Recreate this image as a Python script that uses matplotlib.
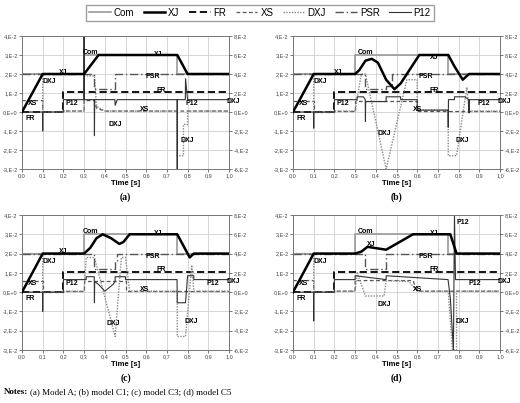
import matplotlib
matplotlib.use("Agg")
import matplotlib.pyplot as plt
from matplotlib.lines import Line2D

plt.rcParams['font.family'] = ['Liberation Sans', 'DejaVu Sans']

# ---------- data: (times, values) breakpoints, left-axis units ----------
# Panel (a) Model A
COM_a = [[0, .3, .3, .75, .75, 1], [.02, .02, .03, .03, .02, .02]]
XJ_a = [[0, .1, .3, .37, .75, .8, 1], [0, .02, .02, .03, .03, .02, .02]]
FR_a = [[0, .2, .2, 1], [0, 0, .0105, .0105]]
XS_a = [[0, .1, .1, .2, .2, .3, .3, .35, .36, .4, 1], [.006, .006, 0, 0, .0005, .0005, .006, .006, .002, .0005, .0005]]
DXJ_a = [[0, .1, .1, .2, .2, .3, .3, .35, .36, .4, .75, .75, .78, .78, .8, .8, 1],
         [.02, .02, 0, 0, .0005, .0005, .019, .019, .003, .0005, .0005, -.023, -.023, -.0065, -.0065, .0005, .0005]]
PSR_a = [[0, .35, .35, .45, .45, 1], [.02, .02, .012, .012, .02, .02]]
P12_a = [[0, .099, .1, .101, .2, .2, .299, .3, .301, .349, .35, .351, .449, .45, .46, .749, .75, .751, .789, .79, .8, 1],
         [0, 0, -.01, 0, 0, .0065, .0065, .04, .0065, .0065, -.0125, .0065, .0065, .0035, .0065, .0065, -.03, .0065, .0065, .0175, .0065, .0065]]

# Panel (b) model C1
COM_b = COM_a
XJ_b = [[0, .1, .3, .32, .35, .38, .41, .45, .49, .52, .61, .75, .78, .82, .85, 1],
        [0, .02, .02, .022, .027, .028, .026, .017, .012, .015, .03, .03, .024, .017, .02, .02]]
FR_b = FR_a
XS_b = [[0, .1, .1, .2, .2, .3, .3, .6, .6, 1], [.006, .006, 0, 0, .0005, .0005, .006, .006, .0005, .0005]]
DXJ_b = [[0, .1, .1, .2, .2, .3, .33, .35, .45, .55, .6, .6, .75, .75, .79, .84, .85, 1],
         [.02, .02, 0, 0, .0005, .0005, .02, .02, -.03, .017, .017, .001, .001, -.023, -.023, .013, .0005, .0005]]
PSR_b = [[0, .35, .35, .45, .45, .48, .48, 1], [.02, .02, .012, .012, .0135, .0135, .02, .02]]
P12_b = [[0, .099, .1, .101, .2, .2, .31, .31, .34, .349, .35, .351, .45, .45, .52, .52, .6, .6, .749, .75, .751, .78, .78, .83, .849, .85, .851, 1],
         [0, 0, -.0085, 0, 0, .0065, .0065, .008, .008, .0065, -.005, .0055, .0055, .008, .008, .0065, .0065, .001, .001, -.008, .0065, .0065, .008, .008, .0065, -.0005, .0065, .0065]]

# Panel (c) model C3
COM_c = COM_a
XJ_c = [[0, .1, .3, .33, .36, .39, .43, .47, .49, .52, .75, .79, .81, .83, 1],
        [0, .02, .02, .023, .028, .03, .028, .025, .026, .03, .03, .022, .018, .02, .02]]
FR_c = FR_a
XS_c = [[0, .1, .1, .2, .2, .3, .3, .5, .5, 1], [.006, .006, 0, 0, .0005, .0005, .006, .006, .0005, .0005]]
DXJ_c = [[0, .1, .1, .2, .2, .3, .31, .35, .45, .48, .5, .52, .75, .75, .79, .82, .83, 1],
         [.02, .02, 0, 0, .0005, .0005, .018, .018, -.023, .018, .018, .0005, .0005, -.023, -.023, .014, .0005, .0005]]
PSR_c = [[0, .35, .35, .45, .45, .46, .46, 1], [.02, .02, .012, .012, .016, .016, .02, .02]]
P12_c = [[0, .099, .1, .101, .2, .2, .31, .31, .349, .35, .351, .37, .4, .44, .45, .45, .5, .5, .749, .75, .79, .8, .8, .83, .83, 1],
         [0, 0, -.01, 0, 0, .0065, .0065, .008, .008, -.0055, .0055, .004, .0005, .004, .0055, .008, .008, .0065, .0065, -.0055, -.0055, .0085, .0085, .0085, .0065, .0065]]

# Panel (d) model C5
COM_d = COM_a
XJ_d = [[0, .1, .3, .33, .36, .45, .58, .76, .79, 1],
        [0, .02, .02, .021, .0235, .022, .03, .03, .02, .02]]
FR_d = FR_a
XS_d = [[0, .1, .1, .2, .2, .3, .3, .58, .6, 1], [.006, .006, 0, 0, .0005, .0005, .006, .006, .0005, .0005]]
DXJ_d = [[0, .1, .1, .2, .2, .3, .31, .35, .44, .45, .56, .6, .75, .77, .79, .79, 1],
         [.02, .02, 0, 0, .0005, .0005, .01, -.002, -.002, .006, .0055, .0005, .0005, -.03, -.03, .0005, .0005]]
PSR_d = PSR_a
P12_d = [[0, .099, .1, .101, .2, .2, .3, .3, .45, .45, .749, .76, .775, .78, .785, .79, 1],
         [0, 0, -.015, 0, 0, .0065, .0065, .0085, .0065, .0085, .0065, -.003, -.03, .04, .0065, .0065, .0065]]

PANELS = ['(a)', '(b)', '(c)', '(d)']
SERIES = ['Com', 'XJ', 'FR', 'XS', 'DXJ', 'PSR', 'P12']
DATA = [
    [COM_a, XJ_a, FR_a, XS_a, DXJ_a, PSR_a, P12_a],
    [COM_b, XJ_b, FR_b, XS_b, DXJ_b, PSR_b, P12_b],
    [COM_c, XJ_c, FR_c, XS_c, DXJ_c, PSR_c, P12_c],
    [COM_d, XJ_d, FR_d, XS_d, DXJ_d, PSR_d, P12_d],
]
LEFT_TICKS = [-.03, -.02, -.01, 0, .01, .02, .03, .04]
LEFT_LABELS = ['-3,E-2', '-2,E-2', '-1,E-2', '0,E+0', '1,E-2', '2,E-2', '3,E-2', '4,E-2']
RIGHT_LABELS = ['-6,E-2', '-4,E-2', '-2,E-2', '0,E+0', '2,E-2', '4,E-2', '6,E-2', '8,E-2']
X_TICKS = [i / 10 for i in range(11)]
X_LABELS = [('%.1f' % v).replace('.', ',') for v in X_TICKS]

STYLES = {
    'Com': dict(color='#9a9a9a', lw=1.2, ls='-'),
    'XJ': dict(color='black', lw=1.8, ls='-'),
    'FR': dict(color='black', lw=1.3, ls=(0, (4, 2))),
    'XS': dict(color='#555555', lw=0.9, ls=(0, (3, 2))),
    'DXJ': dict(color='#888888', lw=1.0, ls=(0, (1, 1))),
    'PSR': dict(color='#555555', lw=1.0, ls=(0, (6, 2, 1, 2))),
    'P12': dict(color='#333333', lw=0.8, ls='-'),
}

LABELS = [
    [('Com', .33, .0315), ('XJ', .2, .021), ('XJ', .66, .0305), ('PSR', .63, .0185), ('FR', .67, .0115),
     ('XS', .59, .0015), ('P12', .82, .0045), ('DXJ', 1.02, .0055), ('DXJ', .13, .016), ('XS', .05, .0045),
     ('FR', .04, -.0035), ('DXJ', .45, -.0065), ('DXJ', .8, -.015), ('P12', .24, .0045)],
    [('Com', .35, .0315), ('XJ', .22, .021), ('XJ', .68, .0285), ('PSR', .64, .0185), ('FR', .68, .0115),
     ('XS', .6, .0015), ('P12', .92, .0045), ('DXJ', 1.02, .0055), ('DXJ', .13, .016), ('XS', .05, .0045),
     ('FR', .04, -.0035), ('DXJ', .44, -.0115), ('DXJ', .82, -.015), ('P12', .24, .0045)],
    [('Com', .33, .0315), ('XJ', .2, .021), ('XJ', .66, .0305), ('PSR', .63, .0185), ('FR', .67, .0115),
     ('XS', .59, .0015), ('P12', .92, .0045), ('DXJ', 1.02, .0055), ('DXJ', .13, .016), ('XS', .05, .0045),
     ('FR', .04, -.0035), ('DXJ', .44, -.0165), ('DXJ', .82, -.015), ('P12', .24, .0045)],
    [('Com', .35, .0315), ('XJ', .38, .0245), ('XJ', .68, .0305), ('PSR', .64, .0185), ('FR', .68, .0115),
     ('XS', .6, .0015), ('P12', .88, .0045), ('DXJ', 1.02, .0055), ('DXJ', .13, .016), ('XS', .05, .0045),
     ('FR', .04, -.0035), ('DXJ', .44, -.0065), ('DXJ', .82, -.015), ('P12', .82, .036)],
]

fig = plt.figure(figsize=(5.2, 4.03), dpi=100)
W, H = 520, 403
boxes = [(22, 36, 229, 169), (293, 36, 500, 169), (22, 215, 229, 350), (293, 215, 500, 350)]

for k, (x0, y0, x1, y1) in enumerate(boxes):
    ax = fig.add_axes([x0 / W, 1 - y1 / H, (x1 - x0) / W, (y1 - y0) / H])
    for name, (t, v) in zip(SERIES, DATA[k]):
        ax.plot(t, v, **STYLES[name], zorder=3 if name == 'XJ' else 2)
    ax.set_xlim(0, 1)
    ax.set_ylim(-.03, .04)
    ax.set_xticks(X_TICKS)
    ax.set_xticklabels(X_LABELS)
    ax.set_yticks(LEFT_TICKS)
    ax.set_yticklabels(LEFT_LABELS)
    ax.grid(True, color='#d0d0d0', lw=0.6)
    ax.tick_params(labelsize=4, length=2, width=0.5, pad=1.2, colors='#444444')
    for s in ax.spines.values():
        s.set_color('#777777'); s.set_linewidth(0.7)
    ax2 = ax.twinx()
    ax2.set_ylim(-.06, .08)
    ax2.set_yticks([2 * v for v in LEFT_TICKS])
    ax2.set_yticklabels(RIGHT_LABELS)
    ax2.tick_params(labelsize=4, length=2, width=0.5, pad=1.2, colors='#444444')
    for s in ax2.spines.values():
        s.set_visible(False)
    ax.set_xlabel('Time [s]', fontsize=5.5, fontweight='bold', labelpad=1)
    ax.annotate(PANELS[k], xy=(0.5, 0), xycoords='axes fraction', xytext=(0, -17),
                textcoords='offset points', ha='center', va='top',
                fontsize=7, fontweight='bold', family='Liberation Serif')
    for txt, x, y in LABELS[k]:
        ax.text(x, y, txt, fontsize=5, fontweight='bold', ha='center', va='center',
                clip_on=False, zorder=5)

handles = [Line2D([0], [0], **STYLES[n]) for n in SERIES]
fig.legend(handles, SERIES, loc='upper center', bbox_to_anchor=(0.5, 1.0), ncol=7,
           fontsize=7, frameon=True, fancybox=False, edgecolor='#888888',
           handlelength=2.2, handletextpad=0.3, columnspacing=1.0, borderpad=0.3)
t1 = fig.text(4 / W, 1 - 392 / H, 'Notes:', fontsize=6.5, family='Liberation Serif',
              fontweight='bold', va='center')
fig.text(30 / W, 1 - 392 / H, '(a) Model A; (b) model C1; (c) model C3; (d) model C5',
         fontsize=6.5, family='Liberation Serif', va='center')
fig.savefig('out.png', dpi=100)
